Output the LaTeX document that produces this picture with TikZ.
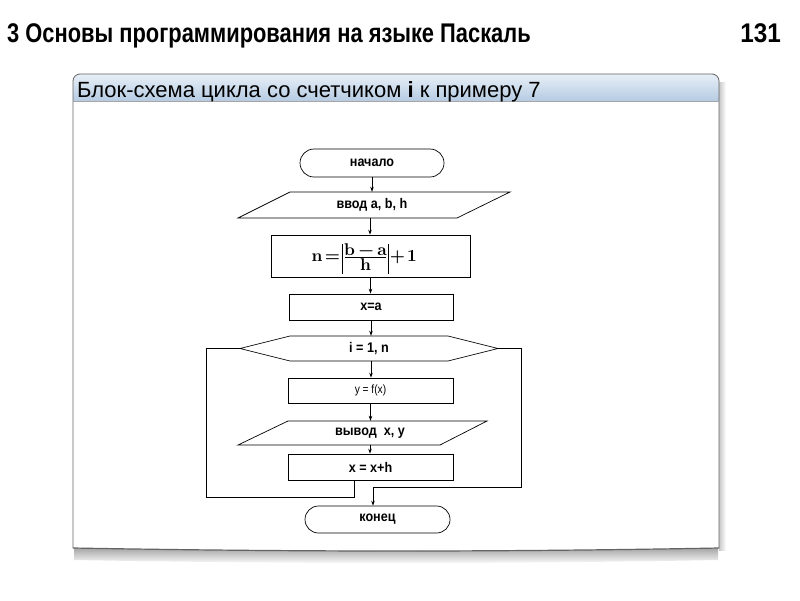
\documentclass[tikz,border=0pt]{standalone}
\usepackage{fontspec}
\setmainfont{Liberation Sans}
\newfontfamily\hdrfont[FakeStretch=1.0]{Liberation Sans}
\newfontfamily\titlefont[FakeStretch=0.81]{Liberation Sans Bold}
\newfontfamily\pagefont[FakeStretch=0.9]{Liberation Sans Bold}
\newfontfamily\fcbold[FakeStretch=0.9]{Liberation Sans Bold}
\newfontfamily\fcreg[FakeStretch=0.85]{Liberation Sans}
\newfontfamily\lmbold{lmroman10-bold.otf}
\usetikzlibrary{arrows.meta,shapes.misc}
\definecolor{hdrtop}{RGB}{232,239,247}
\definecolor{hdrmid}{RGB}{184,205,228}
\definecolor{hdrbot}{RGB}{160,188,218}
\definecolor{panelline}{RGB}{100,100,100}
\begin{document}
\begin{tikzpicture}[x=1pt,y=-1pt,
  fc/.style={font=\fcbold\fontsize{14}{16}\selectfont, inner sep=0pt},
  boxnode/.style={fc, draw, line width=0.7pt},
  termnode/.style={fc, draw, line width=0.7pt, rounded rectangle},
  shapenode/.style={fc},
  shapeline/.style={line width=0.7pt},
  formula/.style={font=\lmbold\fontsize{17}{19}\selectfont, inner sep=0pt, anchor=base},
  formline/.style={line width=1pt},
  conn/.style={line width=0.7pt},
  arr/.style={conn, -{Stealth[length=5pt,width=3.5pt]}}]
\useasboundingbox (0,0) rectangle (800,600);
\fill[white] (0,0) rectangle (800,600);

% page title
\node[anchor=base west, inner sep=0pt, font=\titlefont\fontsize{27}{29}\selectfont] (title) at (7,42) {3 Основы программирования на языке Паскаль};
\node[anchor=base east, inner sep=0pt, font=\pagefont\fontsize{27}{29}\selectfont] (page) at (781,42) {131};

% panel shadow
\shade[top color=black!35, bottom color=white]
  (74,548) .. controls (300,552) and (500,552) .. (718,548) -- (718,560) .. controls (500,564) and (300,564) .. (74,560) -- cycle;
\shade[left color=black!22, right color=white] (719,82) rectangle (726,550);
% panel header
\shade[rounded corners=7, top color=hdrtop, middle color=hdrmid, bottom color=hdrbot] (73,74) rectangle (719,112);
\fill[white] (73,101) -- (73,548) .. controls (300,552) and (500,552) .. (719,548) -- (719,101) -- cycle;
\draw[panelline, line width=0.8pt, rounded corners=7] (73,548) -- (73,74) -- (719,74) -- (719,548);
\draw[panelline, line width=1.2pt] (73,548) .. controls (300,552) and (500,552) .. (719,548);
\draw[black!35, line width=0.6pt] (73,101) -- (719,101);
\node[anchor=base west, inner sep=0pt, font=\hdrfont\fontsize{22}{24}\selectfont] (hdr) at (77,97) {Блок-схема цикла со счетчиком \textbf{i} к примеру 7};

% flowchart nodes
\node[termnode, minimum width=144, minimum height=28] (start) at (372,163) {начало};

\node[shapenode, minimum width=220, minimum height=26] (in) at (372,205) {ввод a, b, h};
\draw[shapeline] (238,218) -- (290,192) -- (510,192) -- (457,218) -- cycle;

\node[boxnode, minimum width=199, minimum height=42] (calc) at (370.5,256) {};
% formula n = |(b - a)/h| + 1
\node[formula] (fn) at (317,261) {n};
\node[formula] (feq) at (332.5,261) {=};
\node[formula] (fnum) at (365.5,255) {b\hspace{3.5pt}−\hspace{3.5pt}a};
\node[formula] (fden) at (365.5,270.5) {h};
\node[formula] (fplus) at (397.5,261) {+};
\node[formula] (fone) at (412,261) {1};
\draw[formline] (345,257) -- (386,257);
\draw[line width=0.8pt] (342,244) -- (342,274);
\draw[line width=0.8pt] (388.5,244) -- (388.5,274);

\node[boxnode, minimum width=164, minimum height=26] (xa) at (371,307) {x=a};

\node[shapenode, minimum width=258, minimum height=25] (hex) at (369,348.5) {i = 1, n};
\draw[shapeline] (240,348.5) -- (290,336) -- (448,336) -- (498,348.5) -- (448,361) -- (290,361) -- cycle;

\node[boxnode, minimum width=165, minimum height=25, font=\fcreg\fontsize{12}{14}\selectfont] (yfx) at (370.5,390.5) {y = f(x)};

\node[shapenode, minimum width=200, minimum height=24] (out) at (370,433) {вывод\ \ x, y};
\draw[shapeline] (238,445) -- (288,421) -- (487,421) -- (440,445) -- cycle;

\node[boxnode, minimum width=165, minimum height=26] (xh) at (370.5,467) {x = x+h};

\node[termnode, minimum width=145, minimum height=27] (end) at (377.5,519.5) {конец};

% connectors
\draw[arr] (start.south) -- (start.south |- in.north);
\draw[arr] ([xshift=-2pt]in.south) -- ([xshift=-2pt]in.south |- calc.north);
\draw[arr] (calc.south) -- (calc.south |- xa.north);
\draw[arr] (xa.south) -- (xa.south |- hex.north);
\draw[arr] ([xshift=2pt]hex.south) -- ([xshift=2pt]hex.south |- yfx.north);
\draw[arr] (yfx.south) -- (yfx.south |- out.north);
\draw[arr] (out.south) -- (out.south |- xh.north);

\coordinate (loopL) at (206,497);
\coordinate (loopR) at (521,487);
\draw[conn] ([xshift=-16.5pt]xh.south) |- (loopL) |- (hex.west);
\draw[arr] (hex.east) -| (loopR) -| ([xshift=-4.5pt]end.north);
\end{tikzpicture}
\end{document}
